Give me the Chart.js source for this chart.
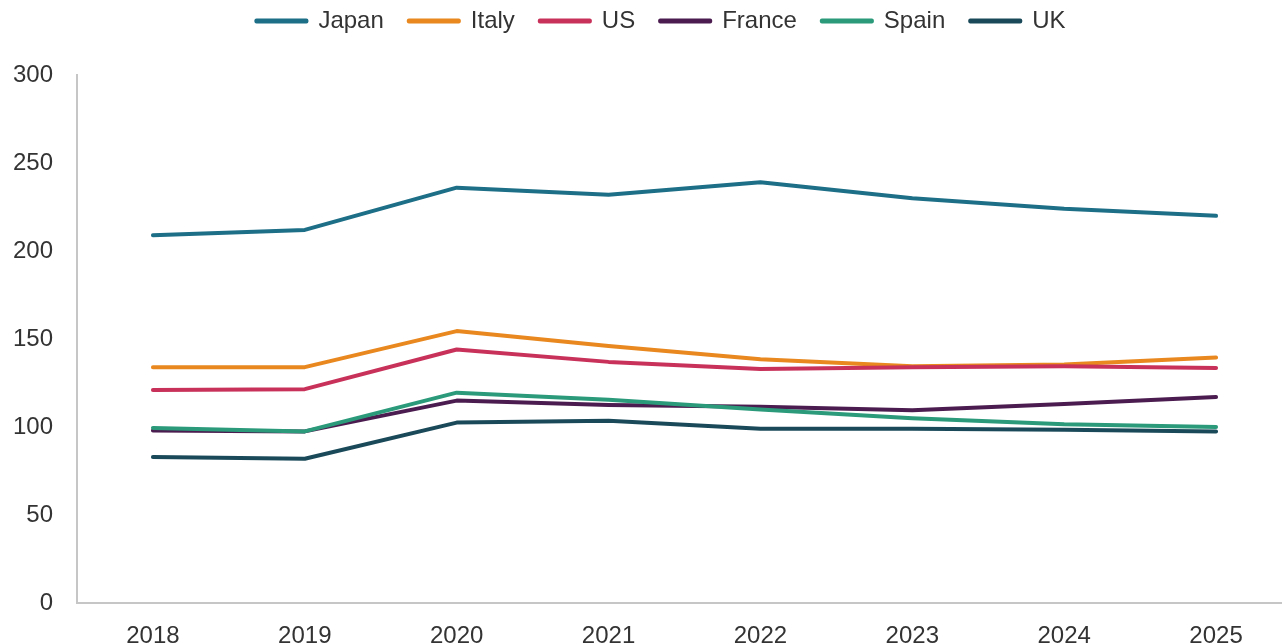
<!DOCTYPE html>
<html>
<head>
<meta charset="utf-8">
<script src="https://cdn.jsdelivr.net/npm/chart.js@4/dist/chart.umd.min.js"></script>
<style>
    html, body { margin: 0; padding: 0; background: #fff; overflow: hidden; }
    #wrap { position: absolute; left: 0; top: 0; width: 1292px; height: 660px; }
</style>
</head>
<body>
<div id="wrap"><canvas id="debt-chart"></canvas></div>
<script>
// Years on the x axis
const years = ['2018', '2019', '2020', '2021', '2022', '2023', '2024', '2025'];

// Series values
const japan  = [209, 212, 236, 232, 239, 230, 224, 220];
const italy  = [134, 134, 154.5, 146, 138.5, 134.5, 135.5, 139.5];
const us     = [121, 121.5, 144, 137, 133, 134, 134.5, 133.5];
const france = [98, 97.5, 115, 112.5, 111.5, 109.5, 113, 117];
const spain  = [99.5, 97.5, 119.5, 115.5, 110, 105, 101.5, 100];
const uk     = [83, 82, 102.5, 103.5, 99, 99, 98.5, 97.5];

// Y axis ticks
const yTicks = [0, 50, 100, 150, 200, 250, 300];

const seriesNames  = ['Japan', 'Italy', 'US', 'France', 'Spain', 'UK'];
const seriesData   = [japan, italy, us, france, spain, uk];
const seriesColors = ['#1d6e87', '#e8881f', '#c8325a', '#4b1c4f', '#2a9a7a', '#1a4a5a'];

const FONT = { family: '"Liberation Sans", Arial, sans-serif', size: 24 };

// Taller legend box so the plot starts lower, then nudge the legend itself
const legendPlacement = {
    id: 'legendPlacement',
    beforeInit(chart) {
        const fit = chart.legend.fit;
        chart.legend.fit = function () {
            fit.call(this);
            this.height = 75;
        };
    },
    afterLayout(chart) {
        const lg = chart.legend;
        lg.top -= 16;
        lg.bottom -= 16;
        lg.left += 15;
        lg.right += 15;
    }
};

const ctx = document.getElementById('debt-chart').getContext('2d');
new Chart(ctx, {
    type: 'line',
    data: {
        labels: years,
        datasets: seriesNames.map((name, i) => ({
            label: name,
            data: seriesData[i],
            borderColor: seriesColors[i],
            backgroundColor: seriesColors[i],
            borderWidth: 4,
            borderCapStyle: 'round',
            borderJoinStyle: 'round',
            pointRadius: 0,
            tension: 0,
            // later series sit on top
            order: seriesNames.length - i
        }))
    },
    options: {
        responsive: true,
        maintainAspectRatio: false,
        animation: false,
        layout: { padding: 0 },
        plugins: {
            legend: {
                display: true,
                position: 'top',
                labels: {
                    font: FONT,
                    color: '#333',
                    boxWidth: 50,
                    boxHeight: 1,
                    padding: 25,
                    sort: (a, b) => a.datasetIndex - b.datasetIndex
                }
            },
            tooltip: { enabled: false }
        },
        scales: {
            x: {
                offset: true,
                grid: { display: false, drawTicks: false },
                border: { display: true, color: '#c6c6c6', width: 2 },
                ticks: { font: FONT, color: '#333', padding: 19, maxRotation: 0 },
                afterFit: (s) => { s.height = 57; }
            },
            y: {
                min: 0,
                max: 300,
                grid: { display: false, drawTicks: false },
                border: { display: true, color: '#c6c6c6', width: 2 },
                afterBuildTicks: (s) => { s.ticks = yTicks.map(v => ({ value: v })); },
                ticks: { font: FONT, color: '#333', padding: 24 },
                afterFit: (s) => { s.width = 77; }
            }
        }
    },
    plugins: [legendPlacement]
});
</script>
</body>
</html>
